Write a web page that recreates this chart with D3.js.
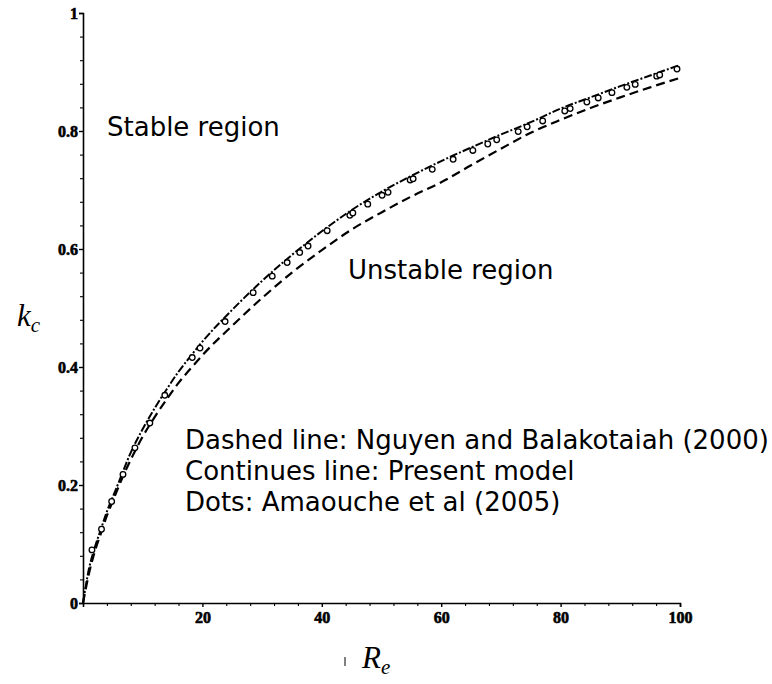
<!DOCTYPE html>
<html>
<head>
<meta charset="utf-8">
<script src="https://cdn.jsdelivr.net/npm/d3@7"></script>
<style>
  html, body { margin: 0; padding: 0; background: #fff; }
  svg { display: block; }
  .tick-label { font-family: "Liberation Serif", "Times New Roman", serif; font-weight: bold; font-size: 16px; fill: #000; stroke: #000; stroke-width: 0.6px; }
  .note { font-family: "DejaVu Sans", Verdana, sans-serif; font-size: 26px; fill: #000; }
  .axis-title { font-family: "Liberation Serif", "Times New Roman", serif; font-style: italic; fill: #000; }
</style>
</head>
<body>
<svg id="chart" width="772" height="684"></svg>
<script>
// Reynolds number sample points
const reGrid = [0, 1, 2, 3, 4, 5, 6, 8, 10, 12, 14, 16, 18, 20, 25, 30, 35, 40, 45, 50, 55, 60, 65, 70, 75, 80, 85, 90, 95, 100];

// Present model: critical wavenumber
const kPresent = [0, 0.058, 0.095, 0.125, 0.155, 0.18, 0.205, 0.255, 0.295, 0.33, 0.362, 0.392, 0.418, 0.443, 0.497, 0.546, 0.59, 0.63, 0.666, 0.697, 0.724, 0.749, 0.772, 0.794, 0.815, 0.838, 0.857, 0.876, 0.894, 0.912];

// Nguyen and Balakotaiah (2000)
const kNguyen = [0, 0.05, 0.088, 0.118, 0.148, 0.173, 0.198, 0.243, 0.282, 0.315, 0.345, 0.373, 0.397, 0.42, 0.47, 0.517, 0.56, 0.598, 0.633, 0.662, 0.689, 0.713, 0.742, 0.77, 0.797, 0.819, 0.839, 0.857, 0.874, 0.89];

// Amaouche et al (2005)
const dotRe = [1.5, 3.1, 4.8, 6.7, 8.7, 11.2, 13.7, 18.3, 19.6, 23.8, 28.5, 31.7, 34.2, 36.3, 37.7, 40.9, 44.7, 45.2, 47.7, 50.1, 51.1, 54.8, 55.3, 58.5, 62, 65.3, 67.8, 69.3, 72.9, 74.4, 77, 80.7, 81.6, 84.4, 86.3, 88.6, 91.1, 92.5, 96.1, 96.6, 99.5];
const dotK = [0.09, 0.125, 0.172, 0.218, 0.263, 0.305, 0.352, 0.416, 0.432, 0.477, 0.526, 0.554, 0.577, 0.594, 0.605, 0.631, 0.657, 0.661, 0.676, 0.691, 0.696, 0.717, 0.719, 0.735, 0.752, 0.767, 0.778, 0.785, 0.799, 0.807, 0.817, 0.834, 0.838, 0.849, 0.856, 0.865, 0.874, 0.879, 0.893, 0.895, 0.905];

// Axis ticks
const xTickValues = [20, 40, 60, 80, 100];
const yTickValues = [0, 0.2, 0.4, 0.6, 0.8, 1];
const yTickLabels = ["0", "0.2", "0.4", "0.6", "0.8", "1"];

const svg = d3.select("#chart");
svg.append("rect").attr("width", 772).attr("height", 684).attr("fill", "#fff");

const x = d3.scaleLinear().domain([0, 100]).range([83, 680]);
const y = d3.scaleLinear().domain([0, 1]).range([603, 13]);

// minor ticks
const xMinor = d3.range(0, 101, 4).filter(v => v % 20 !== 0);
const yMinor = d3.range(0, 1.0001, 0.04).map(v => +v.toFixed(2)).filter(v => Math.abs(v * 5 - Math.round(v * 5)) > 1e-6);

const xAxisG = svg.append("g").attr("transform", `translate(0,${y(0)})`)
  .call(d3.axisBottom(x).tickValues(xTickValues).tickSize(4).tickFormat(d3.format("d")));
const yAxisG = svg.append("g").attr("transform", `translate(${x(0)},0)`)
  .call(d3.axisLeft(y).tickValues(yTickValues).tickSize(4).tickFormat((d, i) => yTickLabels[i]));

[xAxisG, yAxisG].forEach(g => {
  g.select(".domain").attr("stroke", "#000").attr("stroke-width", 1.6);
  g.selectAll(".tick line").attr("stroke", "#000").attr("stroke-width", 1.4);
  g.selectAll(".tick text").attr("class", "tick-label").attr("font-family", null).attr("font-size", null);
});
xAxisG.selectAll(".tick text").attr("dy", "0.95em").attr("y", 5);
yAxisG.selectAll(".tick text").attr("x", -5);

svg.append("g").attr("transform", `translate(0,${y(0)})`)
  .call(d3.axisBottom(x).tickValues(xMinor).tickSize(3).tickFormat(""))
  .call(g => g.select(".domain").remove())
  .call(g => g.selectAll(".tick line").attr("stroke", "#000").attr("stroke-width", 1.1));
svg.append("g").attr("transform", `translate(${x(0)},0)`)
  .call(d3.axisLeft(y).tickValues(yMinor).tickSize(3).tickFormat(""))
  .call(g => g.select(".domain").remove())
  .call(g => g.selectAll(".tick line").attr("stroke", "#000").attr("stroke-width", 1.1));

// curves
const line = d3.line().x(d => x(d[0])).y(d => y(d[1])).curve(d3.curveMonotoneX);

svg.append("path")
  .datum(reGrid.map((r, i) => [r, kNguyen[i]]))
  .attr("d", line)
  .attr("fill", "none").attr("stroke", "#000").attr("stroke-width", 2.2)
  .attr("stroke-dasharray", "9,5");

svg.append("path")
  .datum(reGrid.map((r, i) => [r, kPresent[i]]))
  .attr("d", line)
  .attr("fill", "none").attr("stroke", "#000").attr("stroke-width", 2)
  .attr("stroke-dasharray", "8,2,2,2");

svg.append("g").selectAll("circle")
  .data(dotRe.map((r, i) => [r, dotK[i]]))
  .join("circle")
  .attr("cx", d => x(d[0])).attr("cy", d => y(d[1])).attr("r", 2.8)
  .attr("fill", "#fff").attr("stroke", "#000").attr("stroke-width", 1.3);

// region labels and legend notes
svg.append("text").attr("class", "note").attr("x", 107).attr("y", 136).text("Stable region");
svg.append("text").attr("class", "note").attr("x", 348).attr("y", 279).text("Unstable region");
const notes = ["Dashed line: Nguyen and Balakotaiah (2000)", "Continues line: Present model", "Dots: Amaouche et al (2005)"];
svg.append("g").selectAll("text").data(notes).join("text")
  .attr("class", "note").attr("x", 185).attr("y", (d, i) => 449 + i * 31).text(d => d);

// axis titles
const yt = svg.append("text").attr("class", "axis-title").attr("x", 17).attr("y", 326).attr("font-size", 31);
yt.append("tspan").text("k");
yt.append("tspan").attr("font-size", 21).attr("dy", 6).text("c");

const xt = svg.append("text").attr("class", "axis-title").attr("x", 362).attr("y", 668).attr("font-size", 31);
xt.append("tspan").text("R");
xt.append("tspan").attr("font-size", 21).attr("dy", 6).text("e");

svg.append("line").attr("x1", 345).attr("x2", 345).attr("y1", 657).attr("y2", 666)
  .attr("stroke", "#000").attr("stroke-width", 1);
</script>
</body>
</html>
